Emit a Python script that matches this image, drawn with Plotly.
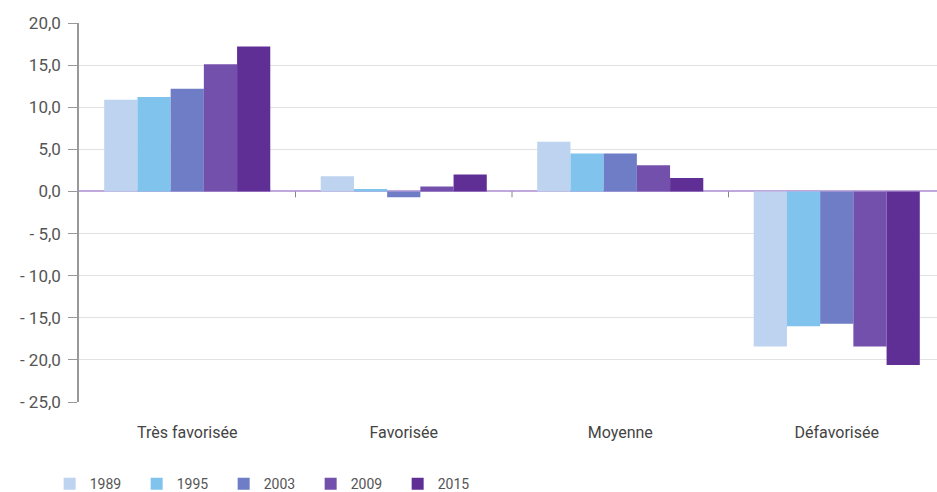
import plotly.graph_objects as go

categories = ["Très favorisée", "Favorisée", "Moyenne", "Défavorisée"]
years = ["1989", "1995", "2003", "2009", "2015"]
v1989 = [10.9, 1.8, 5.9, -18.4]
v1995 = [11.2, 0.3, 4.5, -16.0]
v2003 = [12.2, -0.7, 4.5, -15.7]
v2009 = [15.1, 0.6, 3.1, -18.4]
v2015 = [17.2, 2.0, 1.6, -20.6]
series = [v1989, v1995, v2003, v2009, v2015]
colors = ["#bdd3ef", "#80c3ec", "#6e7dc6", "#7450ad", "#5f2f96"]
ytick_vals = [20, 15, 10, 5, 0, -5, -10, -15, -20, -25]
ytick_text = ["20,0", "15,0", "10,0", "5,0", "0,0", "- 5,0", "- 10,0", "- 15,0", "- 20,0", "- 25,0"]

fig = go.Figure()
for name, vals, col in zip(years, series, colors):
    fig.add_trace(go.Bar(x=list(range(len(categories))), y=vals, name=name,
                         marker=dict(color=col, line=dict(width=0))))

# small category separator ticks on the zero line
for i in range(len(categories) - 1):
    fig.add_shape(type="line", x0=i + 0.5, x1=i + 0.5, y0=0, y1=-0.7,
                  xref="x", yref="y", line=dict(color="#888888", width=1))

fig.update_layout(
    width=937, height=492,
    margin=dict(l=79, r=0, t=23, b=90, autoexpand=False),
    paper_bgcolor="white", plot_bgcolor="white",
    barmode="group", bargap=0.233, bargroupgap=0,
    font=dict(family="Roboto", size=15, color="#555555"),
    showlegend=True,
    legend=dict(orientation="h", xref="container", yref="container",
                x=0.053, xanchor="left", y=0.016, yanchor="middle",
                entrywidth=42, entrywidthmode="pixels",
                font=dict(size=14, color="#555555"), traceorder="normal"),
)
fig.update_xaxes(range=[-0.5, 3.463], tickmode="array",
                 tickvals=list(range(len(categories))), ticktext=categories,
                 showgrid=False, zeroline=False, showline=False, ticks="",
                 tickfont=dict(size=16, color="#444444"), ticklabelstandoff=19)
fig.update_yaxes(range=[-25, 20], tickmode="array", tickvals=ytick_vals, ticktext=ytick_text,
                 showgrid=True, gridcolor="#e2e2e2", gridwidth=1,
                 zeroline=True, zerolinecolor="#c0a8dc", zerolinewidth=1.5,
                 showline=True, linecolor="#999999", linewidth=1.5,
                 ticks="outside", ticklen=9, tickcolor="#999999",
                 ticklabelstandoff=4,
                 tickfont=dict(size=17, color="#555555"))

fig.write_html("out.html")
